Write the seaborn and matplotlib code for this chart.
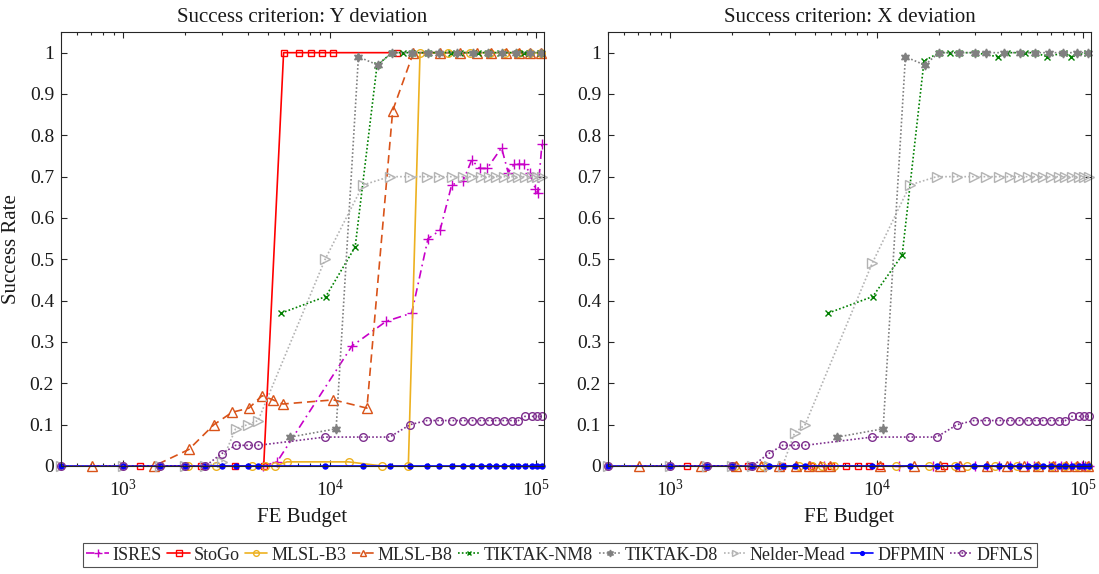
import matplotlib
matplotlib.use("Agg")
import matplotlib.pyplot as plt
import seaborn as sns
from matplotlib.ticker import LogLocator, FixedLocator, FuncFormatter, NullFormatter

sns.set_theme(style="ticks")
plt.rcParams.update({
    "font.family": ["Liberation Serif", "DejaVu Serif"],
    "mathtext.fontset": "custom",
    "mathtext.rm": "Liberation Serif",
    "mathtext.it": "Liberation Serif:italic",
    "mathtext.bf": "Liberation Serif:bold",
})

# ---- data: function-evaluation budgets and success rates per optimiser ----
panel_titles = ["Success criterion: Y deviation", "Success criterion: X deviation"]
algorithms = ["ISRES", "StoGo", "MLSL-B3", "MLSL-B8", "TIKTAK-NM8",
              "TIKTAK-D8", "Nelder-Mead", "DFPMIN", "DFNLS"]

isres_fe = [4775, 5560, 12800, 18750, 24950, 29900, 34200, 38950, 44300, 48640,
            53330, 57830, 67900, 73100, 78200, 82660, 87100, 93100, 99100,
            101600, 106600]
isres_y = [0, 0.01, 0.29, 0.35, 0.37, 0.55, 0.57, 0.68, 0.69, 0.74, 0.72, 0.72,
           0.77, 0.71, 0.73, 0.73, 0.73, 0.71, 0.67, 0.66, 0.78]
isres_x = [0, 0, 0, 0, 0, 0, 0, 0, 0, 0, 0, 0, 0, 0, 0, 0, 0, 0, 0, 0, 0]

stogo_fe = [1200, 2370, 3490, 4790, 5980, 7070, 8150, 9160, 10350, 21130]
stogo_y = [0, 0, 0, 0, 1, 1, 1, 1, 1, 1]
stogo_x = [0, 0, 0, 0, 0, 0, 0, 0, 0, 0]

mlsl_b3_fe = [2070, 2800, 4210, 4880, 5450, 6210, 12330, 17990, 24020, 27370,
              37240, 47740, 59600, 70400, 81400, 93100, 105200]
mlsl_b3_y = [0, 0, 0, 0, 0, 0.01, 0.01, 0, 0, 1, 1, 1, 1, 1, 1, 1, 1]
mlsl_b3_x = [0, 0, 0, 0, 0, 0, 0, 0, 0, 0, 0, 0, 0, 0, 0, 0, 0]

mlsl_b8_fe = [705, 1410, 2080, 2750, 3370, 4060, 4700, 5320, 5940, 10430, 15140,
              20180, 25420, 34200, 42600, 51400, 60700, 71000, 82600, 93100, 105200]
mlsl_b8_y = [0, 0, 0.04, 0.10, 0.13, 0.14, 0.17, 0.16, 0.15, 0.16, 0.14, 0.86,
             1, 1, 1, 1, 1, 1, 1, 1, 1]
mlsl_b8_x = [0, 0, 0, 0, 0, 0, 0, 0, 0, 0, 0, 0, 0, 0, 0, 0, 0, 0, 0, 0, 0]

tiktak_nm8_fe = [5830, 9570, 13280, 16950, 20050, 22650, 25050, 30000, 38740,
                 42830, 52150, 58500, 66800, 81000, 87700, 104300]
tiktak_nm8_y = [0.37, 0.41, 0.53, 0.97, 1, 1, 1, 1, 1, 1, 1, 1, 1, 1, 1, 1]
tiktak_nm8_x = [0.37, 0.41, 0.51, 0.98, 1, 1, 1, 1, 0.99, 1, 1, 1, 0.99, 1, 0.99, 1]

tiktak_d8_fe = [6440, 10740, 13770, 17100, 19970, 25100, 30000, 33900, 41200,
                49200, 58500, 68100, 80200, 93000, 105200]
tiktak_d8_y = [0.07, 0.09, 0.99, 0.97, 1, 1, 1, 1, 1, 1, 1, 1, 1, 1, 1]
tiktak_d8_x = [0.07, 0.09, 0.99, 0.97, 1, 1, 1, 1, 1, 1, 1, 1, 1, 1, 1]

# shared budget grid of the local solvers
local_fe = [500, 1000, 1500, 2000, 2500, 3000, 3500, 4000, 4500, 9500, 14500,
            19500, 24500, 29500, 34000, 39000, 44000, 49000, 54000, 59000,
            64000, 70000, 76000, 82000, 88000, 95000, 101000, 107000]
nelder_mead_y = [0, 0, 0, 0, 0, 0.01, 0.09, 0.10, 0.11, 0.50, 0.68, 0.70, 0.70,
                 0.70, 0.70, 0.70, 0.70, 0.70, 0.70, 0.70, 0.70, 0.70, 0.70,
                 0.70, 0.70, 0.70, 0.70, 0.70]
nelder_mead_x = [0, 0, 0, 0, 0, 0, 0, 0.08, 0.10, 0.49, 0.68, 0.70, 0.70, 0.70,
                 0.70, 0.70, 0.70, 0.70, 0.70, 0.70, 0.70, 0.70, 0.70, 0.70,
                 0.70, 0.70, 0.70, 0.70]
dfpmin_y = [0, 0, 0, 0, 0, 0, 0, 0, 0, 0, 0, 0, 0, 0, 0, 0, 0, 0, 0, 0, 0, 0,
            0, 0, 0, 0, 0, 0]
dfpmin_x = [0, 0, 0, 0, 0, 0, 0, 0, 0, 0, 0, 0, 0, 0, 0, 0, 0, 0, 0, 0, 0, 0,
            0, 0, 0, 0, 0, 0]
dfnls_y = [0, 0, 0, 0, 0, 0.03, 0.05, 0.05, 0.05, 0.07, 0.07, 0.07, 0.10, 0.11,
           0.11, 0.11, 0.11, 0.11, 0.11, 0.11, 0.11, 0.11, 0.11, 0.11, 0.12,
           0.12, 0.12, 0.12]
dfnls_x = [0, 0, 0, 0, 0, 0.03, 0.05, 0.05, 0.05, 0.07, 0.07, 0.07, 0.10, 0.11,
           0.11, 0.11, 0.11, 0.11, 0.11, 0.11, 0.11, 0.11, 0.11, 0.11, 0.12,
           0.12, 0.12, 0.12]

series_data = {
    "ISRES": (isres_fe, isres_y, isres_x),
    "StoGo": (stogo_fe, stogo_y, stogo_x),
    "MLSL-B3": (mlsl_b3_fe, mlsl_b3_y, mlsl_b3_x),
    "MLSL-B8": (mlsl_b8_fe, mlsl_b8_y, mlsl_b8_x),
    "TIKTAK-NM8": (tiktak_nm8_fe, tiktak_nm8_y, tiktak_nm8_x),
    "TIKTAK-D8": (tiktak_d8_fe, tiktak_d8_y, tiktak_d8_x),
    "Nelder-Mead": (local_fe, nelder_mead_y, nelder_mead_x),
    "DFPMIN": (local_fe, dfpmin_y, dfpmin_x),
    "DFNLS": (local_fe, dfnls_y, dfnls_x),
}

# ---- line styles ----
styles = {
    "ISRES":       dict(color="#C800C8", ls=(0, (5, 2.5, 1, 2.5)), marker="+", ms=7, filled=False),
    "StoGo":       dict(color="#FF0000", ls="-", marker="s", ms=5, filled=False),
    "MLSL-B3":     dict(color="#EDB120", ls="-", marker="o", ms=5.5, filled=False),
    "MLSL-B8":     dict(color="#D95319", ls=(0, (5, 3)), marker="^", ms=6.5, filled=False),
    "TIKTAK-NM8":  dict(color="#008000", ls=(0, (1, 1.3)), marker="x", ms=4.5, filled=False),
    "TIKTAK-D8":   dict(color="#808080", ls=(0, (1, 1.3)), marker=(6, 1, 0), ms=6.5, filled=True),
    "Nelder-Mead": dict(color="#B3B3B3", ls=(0, (1, 1.3)), marker=">", ms=6.5, filled=False),
    "DFPMIN":      dict(color="#0000FF", ls="-", marker="o", ms=3.6, filled=True),
    "DFNLS":       dict(color="#7E2F8E", ls=(0, (1, 1.3)), marker="o", ms=5.5, filled=False),
}

W, H = 1099, 574
fig = plt.figure(figsize=(W / 100, H / 100), dpi=100)
ax_w, ax_h = 483 / W, 434 / H
ax_b = 1 - 466 / H
axes = [fig.add_axes([61 / W, ax_b, ax_w, ax_h]),
        fig.add_axes([608 / W, ax_b, ax_w, ax_h])]

spine_col = "#262626"
for k, ax in enumerate(axes):
    ax.set_xscale("log")
    for name in algorithms:
        fe, yv, xv = series_data[name]
        st = styles[name]
        vals = yv if k == 0 else xv
        sns.lineplot(x=fe, y=vals, ax=ax, estimator=None, sort=False,
                     errorbar=None, legend=False, label=name,
                     color=st["color"], linestyle=st["ls"], linewidth=1.2,
                     marker=st["marker"], markersize=st["ms"],
                     markerfacecolor=st["color"] if st["filled"] else "none",
                     markeredgecolor=st["color"], markeredgewidth=1.0,
                     clip_on=False)
    ax.set_xlim(500, 109000)
    ax.set_ylim(0, 1.05)
    ax.xaxis.set_major_locator(LogLocator(base=10, numticks=10))
    ax.xaxis.set_minor_locator(LogLocator(base=10, subs=range(2, 10), numticks=20))
    ax.xaxis.set_minor_formatter(NullFormatter())
    ax.yaxis.set_major_locator(FixedLocator([i / 10 for i in range(11)]))
    ax.yaxis.set_major_formatter(FuncFormatter(
        lambda v, _: f"{v:.1f}".rstrip("0").rstrip(".")))
    ax.tick_params(which="both", direction="in", top=True, right=True,
                   colors=spine_col, labelcolor="#1a1a1a", labelsize=14, width=0.8)
    ax.tick_params(which="major", length=4)
    ax.tick_params(which="minor", length=2.5)
    ax.tick_params(axis="x", which="major", pad=9)
    ax.tick_params(axis="y", which="major", pad=5)
    for sp in ax.spines.values():
        sp.set_color(spine_col)
        sp.set_linewidth(0.8)
    ax.set_title(panel_titles[k], fontsize=15, pad=7, color="#1a1a1a")
    ax.set_xlabel("FE Budget", fontsize=15, labelpad=6, color="#1a1a1a")

axes[0].set_ylabel("Success Rate", fontsize=15, labelpad=6, color="#1a1a1a")
axes[1].set_ylabel("")

handles, labels = axes[0].get_legend_handles_labels()
leg = fig.legend(handles, labels, loc="center", bbox_to_anchor=(560 / W, 1 - 555 / H),
                 ncol=9, frameon=True, fancybox=False, fontsize=13,
                 handlelength=1.25, handletextpad=0.2, columnspacing=0.3,
                 borderpad=0.2, borderaxespad=0, markerscale=0.75)
leg.get_frame().set_edgecolor(spine_col)
leg.get_frame().set_linewidth(0.8)

fig.savefig("out.png", dpi=100)
